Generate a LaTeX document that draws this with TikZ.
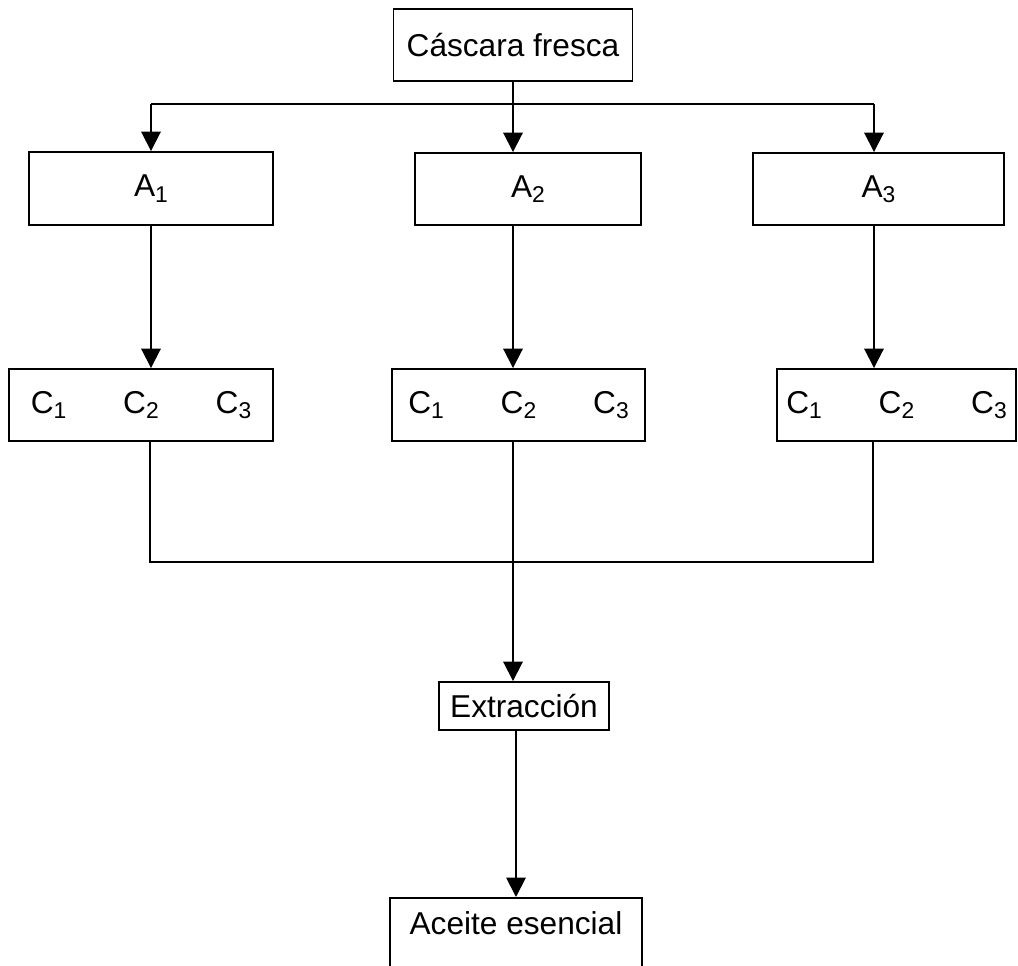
\documentclass[tikz,border=0pt]{standalone}
\usepackage{fontspec}
\setmainfont{Liberation Sans}
\usetikzlibrary{arrows.meta}
\newcommand{\ind}[1]{\raisebox{-0.32ex}{\fontsize{13}{13}\selectfont#1}}
\begin{document}
\begin{tikzpicture}[x=0.02cm,y=-0.02cm,font=\fontsize{18}{21}\selectfont]
  \useasboundingbox (0,0) rectangle (1018,966);
  \clip (0,0) rectangle (1018,966);
  \tikzset{caja/.style={draw,line width=1.1pt,inner sep=0pt,align=center},
    linea/.style={line width=1.1pt},
    flecha/.style={line width=1.1pt,-{Triangle[length=11pt,width=11pt]}}}
  \def\ces{C\ind{1}\hspace{1.8em}C\ind{2}\hspace{1.8em}C\ind{3}}

  \node[caja,minimum width=4.78cm,minimum height=1.44cm] (cascara) at (513,45) {Cáscara fresca};
  \node[caja,minimum width=4.88cm,minimum height=1.46cm] (a1) at (151,188.5) {A\ind{1}};
  \node[caja,minimum width=4.52cm,minimum height=1.44cm] (a2) at (528,189) {A\ind{2}};
  \node[caja,minimum width=5.02cm,minimum height=1.44cm] (a3) at (878.5,189) {A\ind{3}};
  \node[caja,minimum width=5.28cm,minimum height=1.44cm] (c1) at (141,405) {\ces};
  \node[caja,minimum width=5.06cm,minimum height=1.44cm] (c2) at (518.5,405) {\ces};
  \node[caja,minimum width=4.78cm,minimum height=1.44cm] (c3) at (896.5,405) {\ces};
  \node[caja,minimum width=3.4cm,minimum height=0.96cm] (ext) at (524,706) {Extracción};
  % the last box runs past the lower edge of the page
  \node[caja,anchor=north,minimum width=5.04cm,inner ysep=8pt,text depth=2cm] (aceite) at (516,897) {Aceite esencial};

  \coordinate (rama) at (513,104);
  \coordinate (r1) at (151,104);
  \coordinate (r3) at (874,104);
  \coordinate (u1) at (150,562);
  \coordinate (u3) at (873,562);

  \draw[linea] (cascara.south -| rama) -- (rama);
  \draw[linea] (r1) -- (r3);
  \draw[flecha] (r1) -- (r1 |- a1.north);
  \draw[flecha] (rama) -- (rama |- a2.north);
  \draw[flecha] (r3) -- (r3 |- a3.north);

  \draw[flecha] (a1.south -| r1) -- (r1 |- c1.north);
  \draw[flecha] (a2.south -| rama) -- (rama |- c2.north);
  \draw[flecha] (a3.south -| r3) -- (r3 |- c3.north);

  \draw[linea] (c1.south -| u1) -- (u1) -- (u3) -- (c3.south -| u3);
  \draw[flecha] (c2.south -| rama) -- (rama |- ext.north);
  \draw[flecha] (ext.south -| aceite.north) -- (aceite.north);
\end{tikzpicture}
\end{document}
